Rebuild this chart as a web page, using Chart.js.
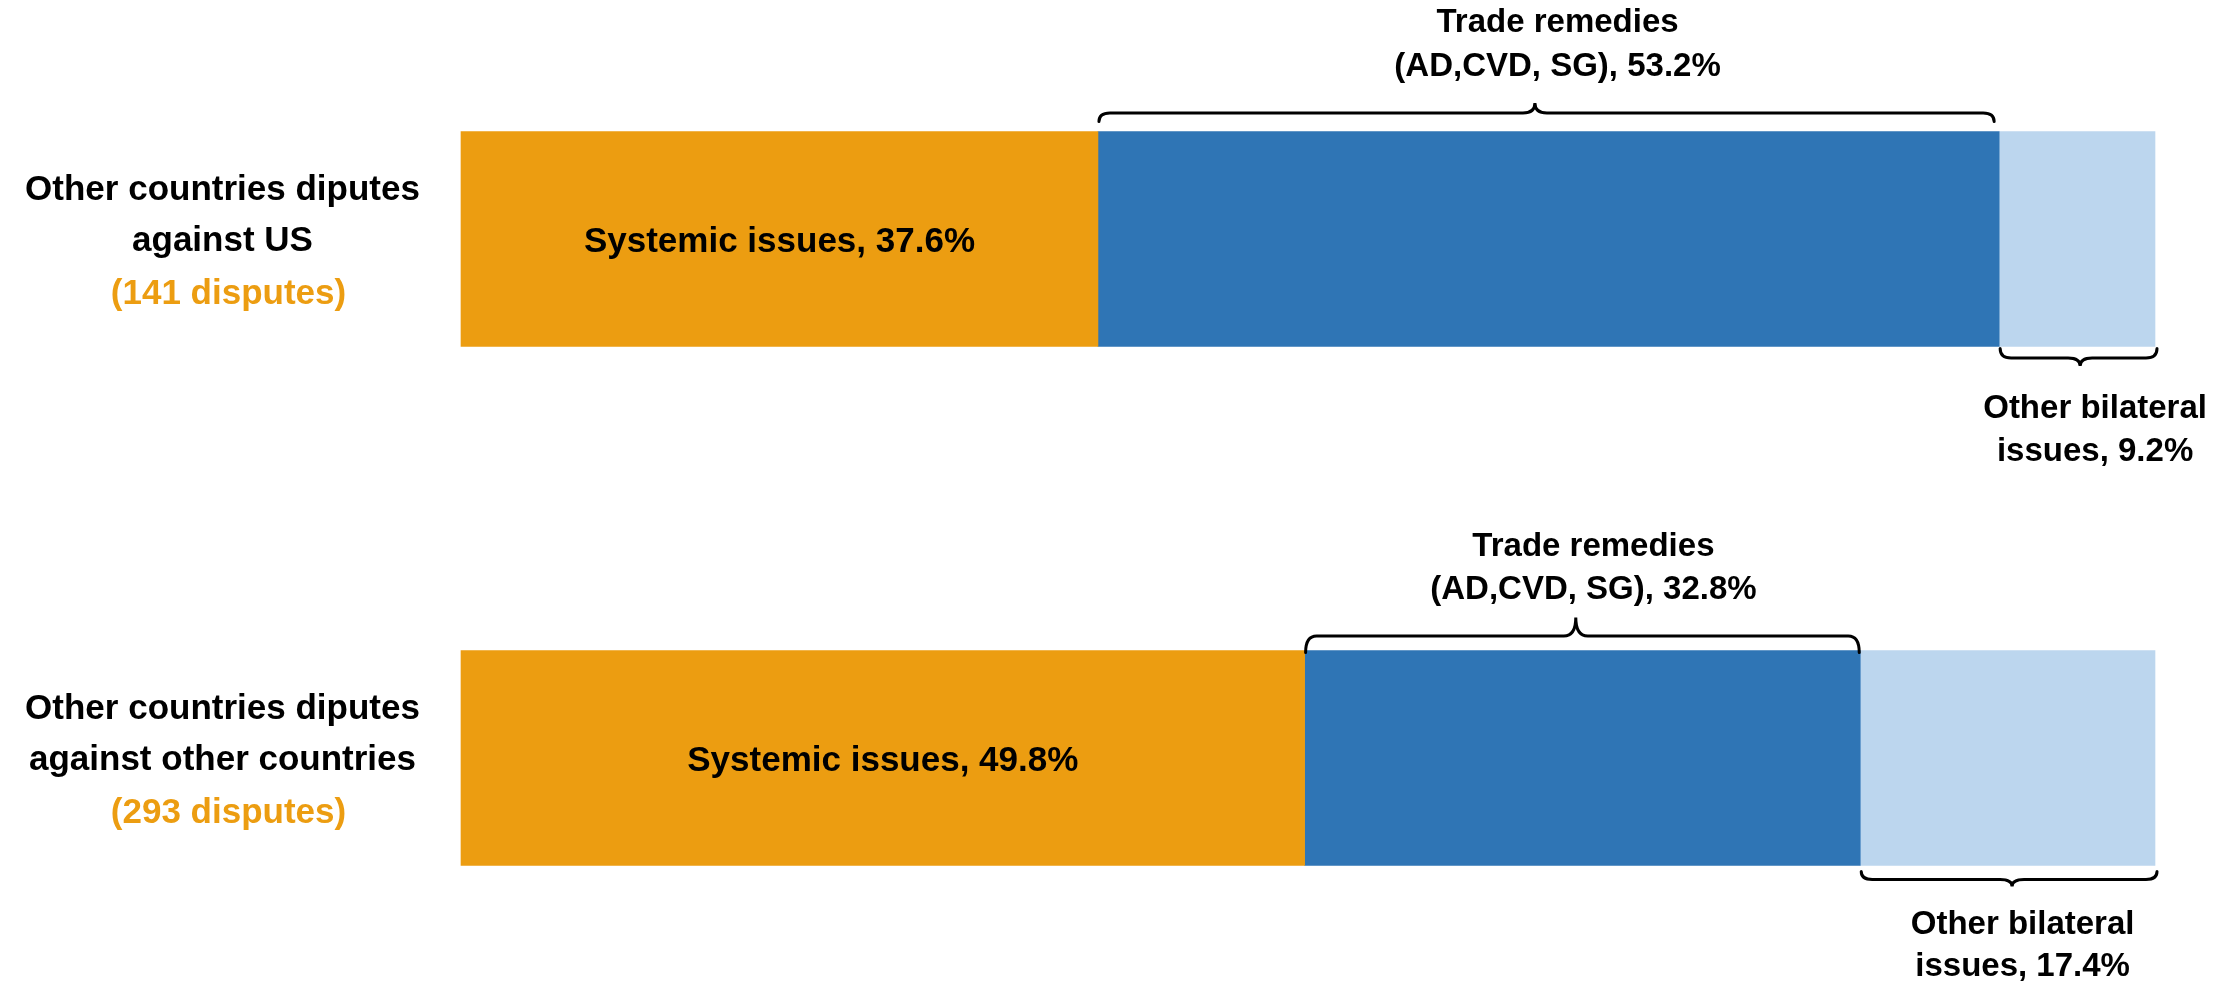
<!DOCTYPE html>
<html>
<head>
<meta charset="utf-8">
<title>Disputes by type</title>
<script src="https://cdn.jsdelivr.net/npm/chart.js@4.4.1/dist/chart.umd.min.js"></script>
<style>
  html, body { margin: 0; padding: 0; background: #fff; }
  canvas { display: block; }
</style>
</head>
<body>
<canvas id="disputesChart" width="2229" height="989"></canvas>
<script>
const categories = [
  ["Other countries diputes", "against US"],
  ["Other countries diputes", "against other countries"],
];
const disputeCounts = ["(141 disputes)", "(293 disputes)"];
const seriesNames = [
  ["Systemic issues"],
  ["Trade remedies", "(AD,CVD, SG)"],
  ["Other bilateral", "issues"],
];
const systemicIssues = [37.6, 49.8];
const tradeRemedies = [53.2, 32.8];
const otherBilateral = [9.2, 17.4];

const ORANGE = "#EC9D11";
const BLUE = "#2F75B5";
const LIGHT_BLUE = "#BCD6EE";
const FONT_FAMILY = '"Liberation Sans", Arial, sans-serif';

function labelText(ds, value) {
  const lines = seriesNames[ds].slice();
  lines[lines.length - 1] += ", " + value.toFixed(1) + "%";
  return lines;
}

// curly brace; yEnd = tips, yLine = straight part, yPeak = point
function drawBrace(ctx, x0, x1, xp, yEnd, yLine, yPeak) {
  const r = 11;
  const p = 12;
  ctx.beginPath();
  ctx.moveTo(x0, yEnd);
  ctx.quadraticCurveTo(x0, yLine, x0 + r, yLine);
  ctx.lineTo(xp - p, yLine);
  ctx.quadraticCurveTo(xp, yLine, xp, yPeak);
  ctx.quadraticCurveTo(xp, yLine, xp + p, yLine);
  ctx.lineTo(x1 - r, yLine);
  ctx.quadraticCurveTo(x1, yLine, x1, yEnd);
  ctx.stroke();
}

const labelPlugin = {
  id: "disputeLabels",
  afterDatasetsDraw(chart, args, opts) {
    const ctx = chart.ctx;
    const yScale = chart.scales.y;
    ctx.save();
    ctx.textAlign = "center";
    ctx.textBaseline = "alphabetic";

    // category names left of the bars
    ctx.font = "bold " + opts.bigSize + "px " + FONT_FAMILY;
    const cx = chart.chartArea.left / 2 - 8;
    categories.forEach((lines, i) => {
      const y = yScale.getPixelForValue(i);
      ctx.fillStyle = "#000";
      ctx.fillText(lines[0], cx, y - 39);
      ctx.fillText(lines[1], cx, y + 12);
      ctx.fillStyle = ORANGE;
      ctx.fillText(disputeCounts[i], cx + 6, y + 65);
    });

    // systemic issues label inside the orange part
    ctx.fillStyle = "#000";
    const meta0 = chart.getDatasetMeta(0);
    meta0.data.forEach((bar, i) => {
      const p = bar.getProps(["x", "base", "y"], true);
      const text = labelText(0, chart.data.datasets[0].data[i])[0];
      ctx.fillText(text, (p.x + p.base) / 2, p.y + opts.bigSize * 0.358);
    });

    // braces with labels
    ctx.strokeStyle = "#000";
    ctx.lineWidth = 3;
    ctx.lineCap = "round";
    ctx.font = "bold " + opts.smallSize + "px " + FONT_FAMILY;
    opts.braces.forEach((b) => {
      const bar = chart.getDatasetMeta(b.ds).data[b.bar];
      const p = bar.getProps(["x", "base", "y", "height"], true);
      const x0 = p.base + b.inset[0];
      const x1 = p.x + b.inset[1];
      const edge = b.side === "top" ? p.y - p.height / 2 : p.y + p.height / 2;
      drawBrace(ctx, x0, x1, x0 + (x1 - x0) * b.peakAt,
        edge + b.end, edge + b.line, edge + b.peak);
      const lines = labelText(b.ds, chart.data.datasets[b.ds].data[b.bar]);
      const tx = (p.x + p.base) / 2 + b.dx;
      lines.forEach((line, k) => ctx.fillText(line, tx, edge + b.text[k]));
    });
    ctx.restore();
  },
};

const ctx = document.getElementById("disputesChart").getContext("2d");
new Chart(ctx, {
  type: "bar",
  data: {
    labels: categories,
    datasets: [
      { label: seriesNames[0].join(" "), data: systemicIssues, backgroundColor: ORANGE },
      { label: seriesNames[1].join(" "), data: tradeRemedies, backgroundColor: BLUE },
      { label: seriesNames[2].join(" "), data: otherBilateral, backgroundColor: LIGHT_BLUE },
    ],
  },
  plugins: [labelPlugin],
  options: {
    indexAxis: "y",
    responsive: false,
    animation: false,
    devicePixelRatio: 1,
    layout: {
      padding: { left: 461, right: 74, top: 239, bottom: 231 },
    },
    datasets: {
      bar: { barThickness: 215, borderWidth: 0, clip: false },
    },
    scales: {
      x: { stacked: true, min: 0, max: 100, display: false },
      y: { stacked: true, offset: false, display: false },
    },
    plugins: {
      legend: { display: false },
      tooltip: { enabled: false },
      disputeLabels: {
        bigSize: 35,
        smallSize: 33,
        braces: [
          { bar: 0, ds: 1, side: "top", inset: [1, -5], peakAt: 0.487, end: -10, line: -18.5, peak: -28.5, text: [-100, -56], dx: 9 },
          { bar: 0, ds: 2, side: "bottom", inset: [1, 2], peakAt: 0.51, end: 2, line: 11.5, peak: 19.5, text: [71, 114], dx: 18 },
          { bar: 1, ds: 1, side: "top", inset: [1, -1], peakAt: 0.488, end: 2, line: -14.5, peak: -33, text: [-95, -52], dx: 11 },
          { bar: 1, ds: 2, side: "bottom", inset: [1, 2], peakAt: 0.51, end: 6, line: 14, peak: 21, text: [68, 110], dx: 15 },
        ],
      },
    },
  },
});
</script>
</body>
</html>
